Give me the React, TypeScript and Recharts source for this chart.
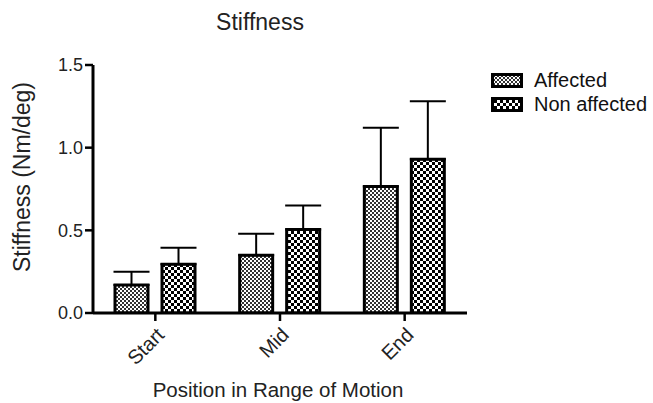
import { Bar, BarChart, ErrorBar, XAxis, YAxis } from 'recharts';

const categories = ['Start', 'Mid', 'End'];
const affected = [0.17, 0.35, 0.765];
const affectedErr = [0.08, 0.13, 0.355];
const nonAffected = [0.295, 0.505, 0.93];
const nonAffectedErr = [0.1, 0.145, 0.35];
const yTicks = [0, 0.5, 1.0, 1.5];

const data = categories.map((name, i) => ({
  name,
  affected: affected[i],
  affectedErr: [0, affectedErr[i]],
  nonAffected: nonAffected[i],
  nonAffectedErr: [0, nonAffectedErr[i]],
}));

const FONT = 'Liberation Sans, Arial, sans-serif';

function Patterns({ prefix }: { prefix: string }) {
  return (
    <defs>
      <pattern id={`${prefix}-fine`} width="4" height="4" patternUnits="userSpaceOnUse">
        <rect width="4" height="4" fill="#fff" />
        <rect x="0" y="0" width="2" height="2" fill="#333" />
        <rect x="2" y="2" width="2" height="2" fill="#333" />
      </pattern>
      <pattern id={`${prefix}-coarse`} width="6" height="6" patternUnits="userSpaceOnUse">
        <rect width="6" height="6" fill="#fff" />
        <rect x="0" y="0" width="3" height="3" fill="#000" />
        <rect x="3" y="3" width="3" height="3" fill="#000" />
      </pattern>
    </defs>
  );
}

const legendItems = [
  { label: 'Affected', fill: 'lg-fine' },
  { label: 'Non affected', fill: 'lg-coarse' },
];

function ChartLegend() {
  return (
    <div
      style={{
        position: 'absolute',
        left: 491,
        top: 68,
        fontFamily: FONT,
        fontSize: 20,
        color: '#111',
      }}
    >
      {legendItems.map((item) => (
        <div key={item.label} style={{ display: 'flex', alignItems: 'center', height: 24 }}>
          <svg width={32} height={15} style={{ marginRight: 11 }}>
            <Patterns prefix="lg" />
            <rect x={1.5} y={1.5} width={29} height={12} fill={`url(#${item.fill})`} stroke="#000" strokeWidth={3} />
          </svg>
          <span>{item.label}</span>
        </div>
      ))}
    </div>
  );
}

const XTick = ({ x, y, payload }: any) => (
  <text
    x={x}
    y={y + 3}
    transform={`rotate(-45, ${x}, ${y + 3})`}
    textAnchor="end"
    dominantBaseline="hanging"
    fontFamily={FONT}
    fontSize={20}
    fill="#222"
  >
    {payload.value}
  </text>
);

export default function App() {
  return (
    <div style={{ position: 'absolute', left: 0, top: 0, width: 653, height: 403, background: '#fff' }}>
      <BarChart
        width={653}
        height={403}
        data={data}
        margin={{ top: 65, right: 186, bottom: 60, left: 33 }}
        barGap={14}
        barSize={33}
      >
        <Patterns prefix="ch" />
        <text x={260} y={30} textAnchor="middle" fontFamily={FONT} fontSize={23} fill="#222">
          Stiffness
        </text>
        <text
          x={30}
          y={177}
          transform="rotate(-90, 30, 177)"
          textAnchor="middle"
          fontFamily={FONT}
          fontSize={23}
          fill="#222"
        >
          Stiffness (Nm/deg)
        </text>
        <text x={278} y={397} textAnchor="middle" fontFamily={FONT} fontSize={20.5} fill="#222">
          Position in Range of Motion
        </text>
        <XAxis
          dataKey="name"
          height={30}
          axisLine={{ stroke: '#000', strokeWidth: 3 }}
          tickLine={{ stroke: '#000', strokeWidth: 2.5 }}
          tickSize={8}
          tick={<XTick />}
          interval={0}
        />
        <YAxis
          width={60}
          domain={[0, 1.5]}
          ticks={yTicks}
          allowDataOverflow
          tickFormatter={(v: number) => v.toFixed(1)}
          axisLine={{ stroke: '#000', strokeWidth: 3 }}
          tickLine={{ stroke: '#000', strokeWidth: 2.5 }}
          tickSize={8}
          tickMargin={2}
          tick={{ fontFamily: FONT, fontSize: 18, fill: '#222' }}
        />
        <Bar
          dataKey="affected"
          name="Affected"
          fill="url(#ch-fine)"
          stroke="#000"
          strokeWidth={3}
          isAnimationActive={false}
        >
          <ErrorBar dataKey="affectedErr" width={18} stroke="#000" strokeWidth={2} direction="y" />
        </Bar>
        <Bar
          dataKey="nonAffected"
          name="Non affected"
          fill="url(#ch-coarse)"
          stroke="#000"
          strokeWidth={3}
          isAnimationActive={false}
        >
          <ErrorBar dataKey="nonAffectedErr" width={18} stroke="#000" strokeWidth={2} direction="y" />
        </Bar>
      </BarChart>
      <ChartLegend />
    </div>
  );
}
